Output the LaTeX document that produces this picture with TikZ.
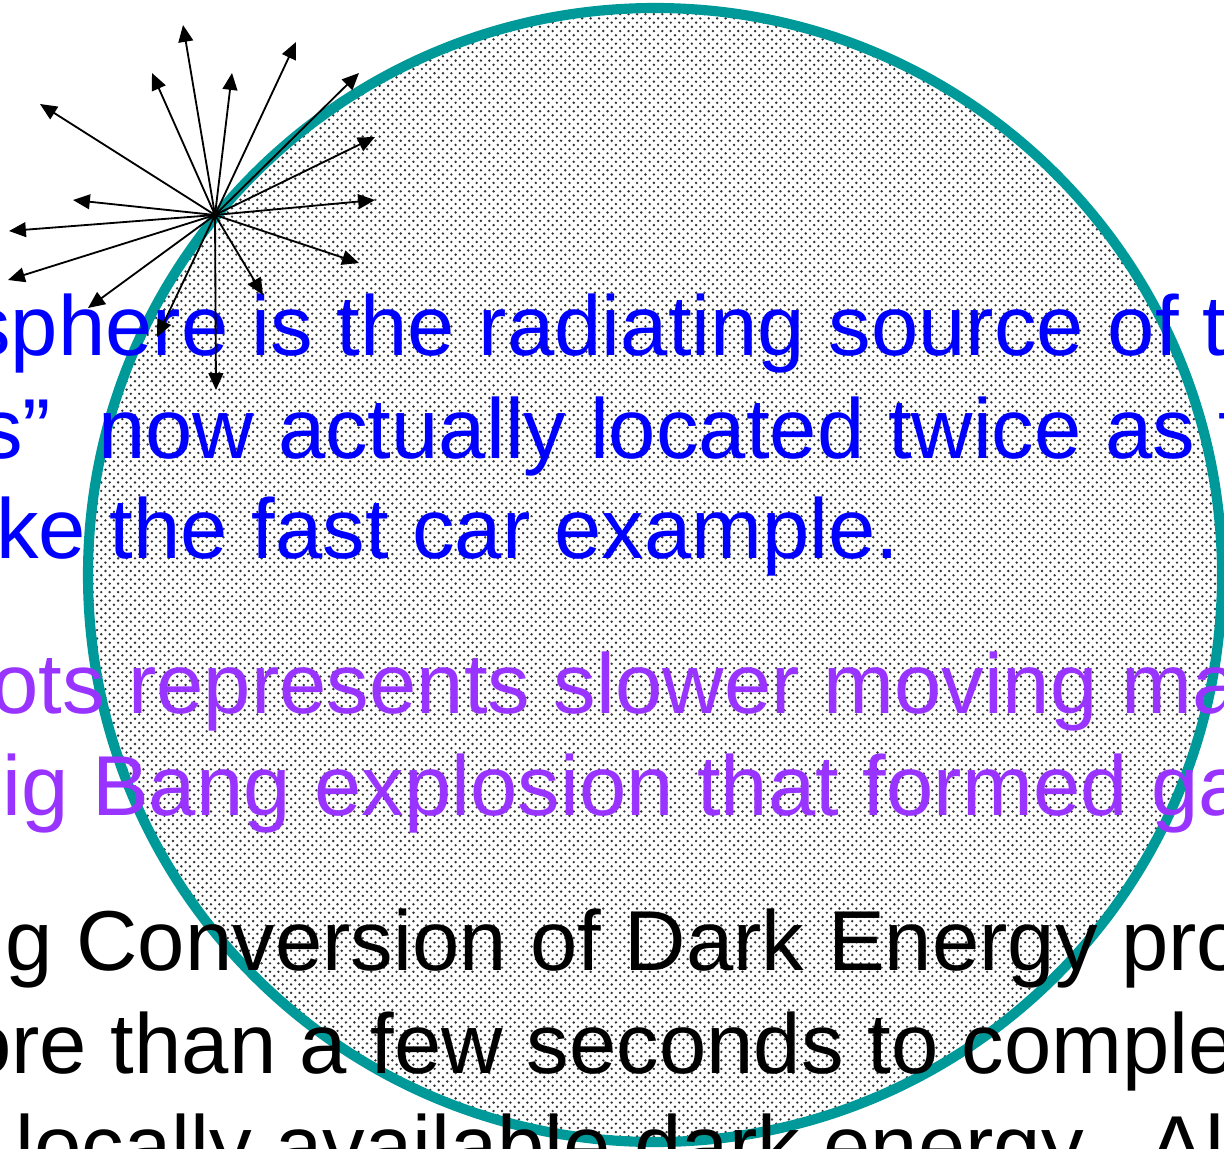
\documentclass[tikz,border=0pt]{standalone}
\usepackage{fontspec}
\setmainfont{Liberation Sans}
\usetikzlibrary{arrows.meta,patterns}

\definecolor{rimteal}{RGB}{0,153,153}
\definecolor{txtblue}{RGB}{0,0,255}
\definecolor{txtpurple}{RGB}{153,51,255}

% staggered dot screen of the sphere
\pgfdeclarepatternformonly{spheredots}{\pgfqpoint{-1.5pt}{-1.5pt}}{\pgfqpoint{4.5pt}{4.5pt}}{\pgfqpoint{6pt}{6pt}}
{
  \pgfpathcircle{\pgfqpoint{0pt}{0pt}}{0.95pt}
  \pgfpathcircle{\pgfqpoint{3pt}{3pt}}{0.95pt}
  \pgfusepath{fill}
}

\tikzset{
  line/.style={inner sep=0pt, anchor=base west, font=\fontsize{60.5}{72}\selectfont},
  ray/.style={line width=1.3pt, -{Triangle[length=12pt,width=10.5pt]}},
}

\begin{document}
\begin{tikzpicture}[x=0.025cm,y=-0.025cm]

% ---------- frame (pixel units, y downwards) ----------
\useasboundingbox (0,0) rectangle (1224,1149);
\clip (0,0) rectangle (1224,1149);

% ---------- the dotted sphere ----------
% centre (655,575), r=567 on the stroke
\coordinate (ctr) at (655,575);
\fill[white] (ctr) circle (567);
\fill[pattern=spheredots, pattern color=black!80] (ctr) circle (567);
\draw[rimteal, line width=7.2pt] (ctr) circle (567);

% ---------- text lines (cut by the frame) ----------
\node[line, txtblue] (l1) at (-32,355) {sphere is the radiating source of t};
\node[line, txtblue] (l2) at (-20,458) {s”\ \ now actually located twice as f};
\node[line, txtblue] (l3) at (-4,558) {ke the fast car example.};

\node[line, txtpurple] (l4) at (-9,713) {ots represents slower moving ma};
\node[line, txtpurple] (l5) at (2,815) {ig Bang explosion that formed ga};

\node[line] (l6) at (-42,970) {ng Conversion of Dark Energy pro};
\node[line] (l7) at (-36,1073) {ore than a few seconds to comple};
\node[line] (l8) at (15,1175) {locally available dark energy.\ \ Al};

% ---------- radiating arrows ----------
\coordinate (src) at (215,215);
\foreach \tx/\ty [count=\i] in {183/25, 296/42, 232/73, 152/73, 40/104,
    359/73, 375/137, 375/200, 73/200, 9/231, 8/280, 359/263,
    88/308, 263/295, 216/390, 157/337}
{
  \coordinate (tip\i) at (\tx,\ty);
  \draw[ray] (src) -- (tip\i);
}

\end{tikzpicture}
\end{document}
